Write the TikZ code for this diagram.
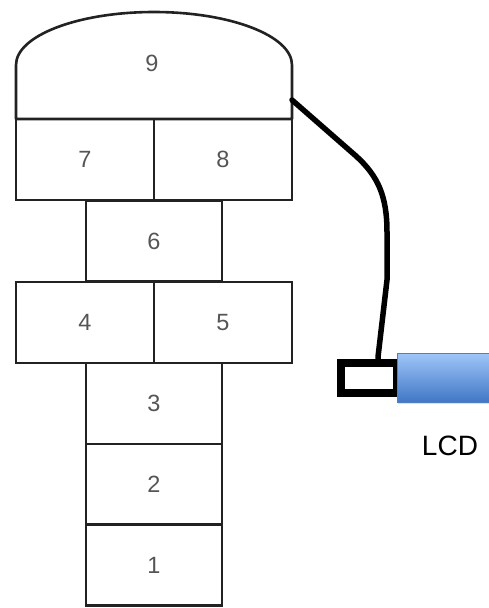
\documentclass[tikz,border=0pt]{standalone}
\usepackage{fontspec}
\setmainfont{Liberation Sans}
\usetikzlibrary{shadows}
\definecolor{boxline}{HTML}{222222}
\definecolor{digit}{HTML}{555555}
\definecolor{lcdtop}{HTML}{A0C6F8}
\definecolor{lcdbot}{HTML}{4077C6}
\definecolor{lcdedge}{HTML}{4F80C4}
\tikzset{
  digitfont/.style={text=digit, font=\fontsize{23.5}{28}\selectfont},
  cell/.style={draw=boxline, line width=2.6pt, inner sep=0pt, digitfont},
  wide/.style={cell, minimum width=138pt, minimum height=81pt},
  narrow/.style={cell, minimum width=136pt, minimum height=81pt},
  cable/.style={line width=5.5pt, black, line cap=round, line join=round},
  plug/.style={draw=black, line width=7.5pt, fill=white, inner sep=0pt,
    minimum width=56pt, minimum height=30pt},
  lcdbody/.style={draw=lcdedge, line width=0.8pt, top color=lcdtop, bottom color=lcdbot,
    inner sep=0pt, minimum width=100pt, minimum height=49pt},
  lbl/.style={font=\fontsize{28}{32}\selectfont, text=black}
}
\begin{document}
\begin{tikzpicture}[x=1pt,y=-1pt]
\useasboundingbox (0,0) rectangle (488,608);
\fill[white] (0,0) rectangle (488,608);
% dome (cell 9)
\draw[boxline, line width=2.6pt, line join=round]
  (16,119) -- (16,65) arc[start angle=180, end angle=0, x radius=138pt, y radius=53pt] -- (292,119) -- cycle;
\node[digitfont] (n9) at (152,63) {9};
\coordinate (cablestart) at (292,100);
% cells
\node[wide] (n7) at (85,159.5) {7};
\node[wide] (n8) at (223,159.5) {8};
\node[narrow] (n6) at (154,241) {6};
\node[wide] (n4) at (85,322.5) {4};
\node[wide] (n5) at (223,322.5) {5};
\node[narrow] (n3) at (154,403.5) {3};
\node[narrow] (n2) at (154,484.5) {2};
\node[narrow] (n1) at (154,565) {1};
% LCD
\node[plug] (plug) at (369,378) {};
\node[lcdbody, drop shadow={shadow xshift=1pt, shadow yshift=-2pt, opacity=0.25}] (lcd) at (447,377.5) {};
\node[lbl] (lcdlabel) at (450,446) {LCD};
% cable
\draw[cable] (cablestart) -- (356,156) .. controls (378,176) and (387,196) .. (387,232)
  -- (387,280) -- (378,357) -- (plug.north -| 378,0);
\end{tikzpicture}
\end{document}
